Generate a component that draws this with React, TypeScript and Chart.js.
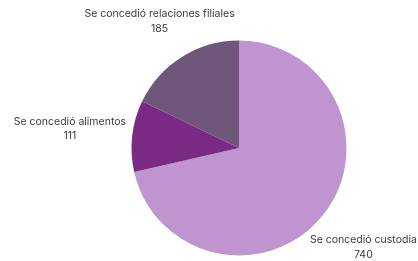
import React, { useEffect, useRef } from "react";
import { Chart, registerables } from "chart.js";

Chart.register(...registerables);

const categories: string[] = [
  "Se concedió custodia",
  "Se concedió alimentos",
  "Se concedió relaciones filiales",
];
const values: number[] = [740, 111, 185];
const colors: string[] = ["#bf94d0", "#7a2a82", "#6e577a"];
const labelDistance: number[] = [1.48, 1.583, 1.389];

const labelPlugin = {
  id: "outerLabels",
  afterDraw(chart: any) {
    const ctx = chart.ctx;
    const meta = chart.getDatasetMeta(0);
    ctx.save();
    ctx.font = "10.5px Inter, 'Noto Sans', sans-serif";
    ctx.fillStyle = "#3a3a3a";
    ctx.textAlign = "center";
    ctx.textBaseline = "middle";
    meta.data.forEach((arc: any, i: number) => {
      const { x, y, startAngle, endAngle, outerRadius } = arc.getProps(
        ["x", "y", "startAngle", "endAngle", "outerRadius"],
        true
      );
      const mid = (startAngle + endAngle) / 2;
      const d = outerRadius * labelDistance[i];
      const cx = x + Math.cos(mid) * d;
      const cy = y + Math.sin(mid) * d;
      ctx.fillText(String(chart.data.labels[i]), cx, cy - 7.3);
      ctx.fillText(String(chart.data.datasets[0].data[i]), cx, cy + 7.3);
    });
    ctx.restore();
  },
};

export default function App() {
  const ref = useRef<HTMLCanvasElement | null>(null);
  useEffect(() => {
    if (!ref.current) return;
    const chart = new Chart(ref.current, {
      type: "pie",
      data: {
        labels: categories,
        datasets: [
          {
            data: values,
            backgroundColor: colors,
            borderWidth: 0,
          },
        ],
      },
      options: {
        responsive: false,
        animation: false,
        layout: { padding: { top: 40.5, bottom: 5.5, left: 100, right: 40 } },
        plugins: {
          legend: { display: false },
          tooltip: { enabled: false },
        },
      },
      plugins: [labelPlugin],
    });
    return () => chart.destroy();
  }, []);
  return (
    <div style={{ position: "fixed", left: 0, top: 0, width: 418, height: 261, background: "#fff" }}>
      <canvas ref={ref} width={418} height={261} style={{ width: 418, height: 261 }} />
    </div>
  );
}
